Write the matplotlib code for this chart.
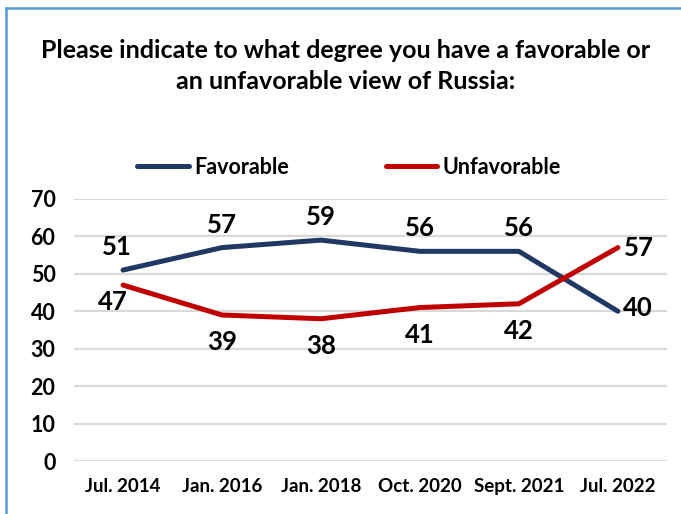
import matplotlib.pyplot as plt
from matplotlib.lines import Line2D

plt.rcParams['font.family'] = ['Lato', 'DejaVu Sans']
plt.rcParams['font.weight'] = 'bold'

dates = ['Jul. 2014', 'Jan. 2016', 'Jan. 2018', 'Oct. 2020', 'Sept. 2021', 'Jul. 2022']
favorable = [51, 57, 59, 56, 56, 40]
unfavorable = [47, 39, 38, 41, 42, 57]

navy = '#1f3864'
red = '#c00000'

fig = plt.figure(figsize=(6.81, 5.14), dpi=100)
ax = fig.add_axes([0.108, 0.103, 0.872, 0.510])

x = list(range(len(dates)))
ax.plot(x, favorable, color=navy, lw=3.6, solid_capstyle='round',
        solid_joinstyle='round', label='Favorable', zorder=3)
ax.plot(x, unfavorable, color=red, lw=3.6, solid_capstyle='round',
        solid_joinstyle='round', label='Unfavorable', zorder=3)

ax.set_xlim(-0.5, len(dates) - 0.5)
ax.set_ylim(0, 70)
ax.set_yticks(range(0, 71, 10))
ax.set_xticks(x)
ax.set_xticklabels(dates, fontsize=13.5, fontweight='bold')
ax.tick_params(axis='y', labelsize=15.5, length=0, pad=13)
ax.tick_params(axis='x', length=0, pad=12)
for lab in ax.get_yticklabels():
    lab.set_fontweight('bold')
ax.grid(axis='y', color='#d9d9d9', lw=1.6)
ax.set_axisbelow(True)
for s in ax.spines.values():
    s.set_visible(False)

# data labels
lbl = dict(textcoords='offset pixels', fontsize=18.5, fontweight='bold', va='center')
for i, v in enumerate(favorable):
    if i == len(dates) - 1:
        ax.annotate(str(v), (i, v), xytext=(5, 3), ha='left', **lbl)
    else:
        dx = -6 if i == 0 else 0
        ax.annotate(str(v), (i, v), xytext=(dx, 23), ha='center', **lbl)
for i, v in enumerate(unfavorable):
    if i == len(dates) - 1:
        ax.annotate(str(v), (i, v), xytext=(6, 0), ha='left', **lbl)
    elif i == 0:
        ax.annotate(str(v), (i, v), xytext=(-10, -17), ha='center', **lbl)
    else:
        ax.annotate(str(v), (i, v), xytext=(0, -27), ha='center', **lbl)

handles = [Line2D([], [], color=navy, lw=3.6, solid_capstyle='round'),
           Line2D([], [], color=red, lw=3.6, solid_capstyle='round')]
fig.legend(handles, ['Favorable', 'Unfavorable'], loc='center', ncol=2,
           bbox_to_anchor=(349 / 681, 1 - 167 / 514), frameon=False,
           prop={'size': 15.5, 'weight': 'bold'}, handlelength=2.4,
           handletextpad=0.25, columnspacing=4.5)

fig.text(0.508, 1 - 66 / 514,
         'Please indicate to what degree you have a favorable or\nan unfavorable view of Russia:',
         ha='center', va='center', fontsize=18, fontweight='bold', linespacing=1.4)

# frame border (left and top only)
fig.add_artist(Line2D([6 / 681, 6 / 681], [0, 1 - 8 / 514], color='#5b9bd5', lw=1.8))
fig.add_artist(Line2D([6 / 681, 1], [1 - 8 / 514, 1 - 8 / 514], color='#5b9bd5', lw=1.8))

fig.savefig('out.png', dpi=100)
